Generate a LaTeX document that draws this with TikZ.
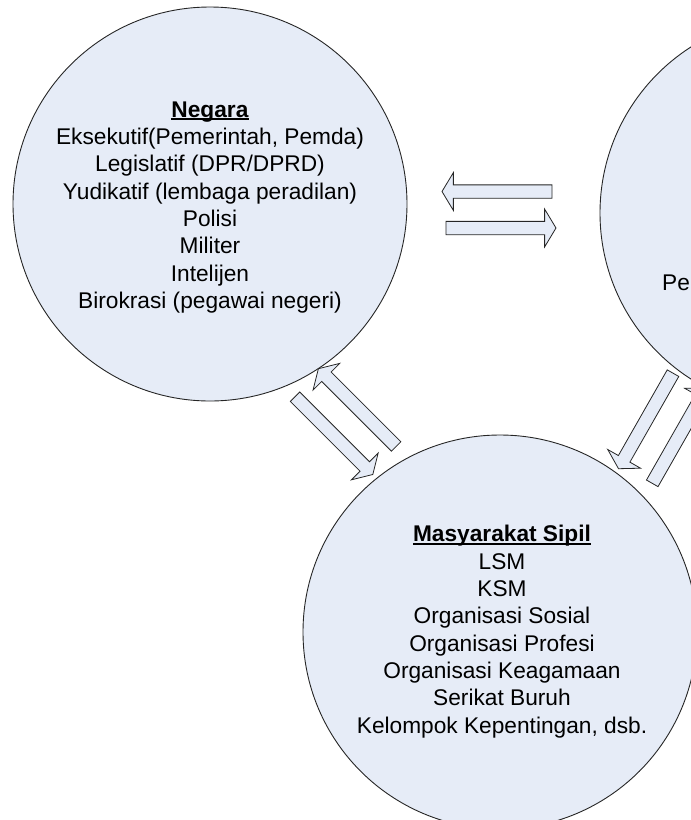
\documentclass[tikz,border=0pt]{standalone}
\usepackage{fontspec}
\setmainfont{Liberation Sans}
\usetikzlibrary{shapes.arrows}
\definecolor{bubblefill}{HTML}{E6ECF7}
\newcommand\titleul[1]{\setbox0\hbox{\textbf{#1}}\rlap{\rule[-3pt]{\wd0}{1.7pt}}\box0}
\newcommand\shaftstrut{\rule{0pt}{12.5pt}}
\begin{document}
\begin{tikzpicture}[x=1pt,y=-1pt,
  bubble/.style={circle, draw=black!85, line width=0.9pt, fill=bubblefill, minimum size=394pt, inner sep=0pt},
  blockarrow/.style={single arrow, draw=black!85, line width=0.8pt, fill=bubblefill, minimum height=110pt, minimum width=0pt, single arrow head extend=12.25pt, single arrow tip angle=118, inner sep=0pt},
  bodytext/.style={font=\fontsize{22.7}{27.35}\selectfont, anchor=base, inner sep=0pt}]
\useasboundingbox (0,0) rectangle (691,820);
\begin{scope}
\clip (0,0) rectangle (691,820);
\node[bubble] (negara) at (210,204) {};
\node[bubble] (pihak) at (797,213) {};
\node[bubble] (masy) at (500,632) {};
\node[bodytext] (negaraText) at (210,117) {\begin{tabular}[t]{@{}c@{}}\titleul{Negara}\\ Eksekutif(Pemerintah, Pemda)\\ Legislatif (DPR/DPRD)\\ Yudikatif (lembaga peradilan)\\ Polisi\\ Militer\\ Intelijen\\ Birokrasi (pegawai negeri)\end{tabular}};
\node[bodytext] (masyText) at (502,541.7) {\begin{tabular}[t]{@{}c@{}}\titleul{Masyarakat Sipil}\\ LSM\\ KSM\\ Organisasi Sosial\\ Organisasi Profesi\\ Organisasi Keagamaan\\ Serikat Buruh\\ Kelompok Kepentingan, dsb.\end{tabular}};
\node[bodytext, anchor=base west] (peText) at (662,290) {Pe};
\node[blockarrow, rotate=180] (aToNegara) at (499,191.5) {\shaftstrut};
\node[blockarrow] (aToPihak) at (499,228) {\shaftstrut};
\node[blockarrow, rotate=135] (aMasyNegara) at (358.7,409) {\shaftstrut};
\node[blockarrow, rotate=-45] (aNegaraMasy) at (332.5,434.2) {\shaftstrut};
\node[blockarrow, rotate=240.3] (aPihakMasy) at (646.75,419.2) {\shaftstrut};
\node[blockarrow, rotate=60.3] (aMasyPihak) at (678.5,437.3) {\shaftstrut};
\end{scope}
\end{tikzpicture}
\end{document}
